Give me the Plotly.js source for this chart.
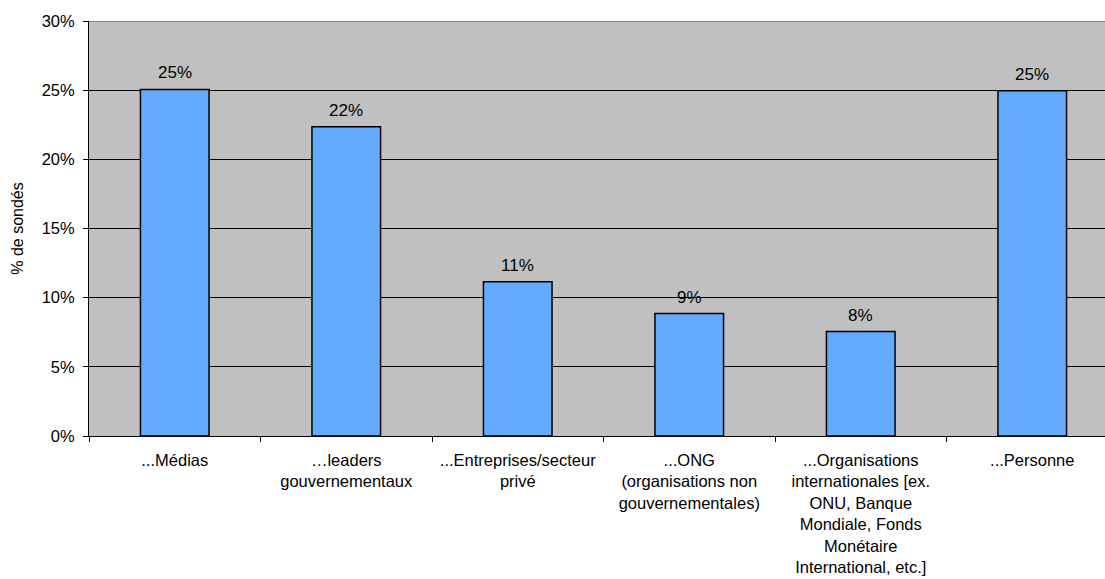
<!DOCTYPE html>
<html>
<head>
<meta charset="utf-8">
<script src="https://cdn.plot.ly/plotly-3.0.1.min.js"></script>
<style>
html, body { margin: 0; padding: 0; overflow: hidden; background: #fff; }
#chart { width: 1130px; height: 579px; }
</style>
</head>
<body>
<div id="chart"></div>
<script>
const categories = [
  "...Médias",
  "…leaders<br>gouvernementaux",
  "...Entreprises/secteur<br>privé",
  "...ONG<br>(organisations non<br>gouvernementales)",
  "...Organisations<br>internationales [ex.<br>ONU, Banque<br>Mondiale, Fonds<br>Monétaire<br>International, etc.]",
  "...Personne"
];
const values = [25.05, 22.35, 11.15, 8.85, 7.55, 24.95];
const valueLabels = ["25%", "22%", "11%", "9%", "8%", "25%"];
const yTickVals = [0, 5, 10, 15, 20, 25, 30];
const yTickText = ["0%", "5%", "10%", "15%", "20%", "25%", "30%"];

const font = "Liberation Sans, Arial, sans-serif";

const trace = {
  type: "bar",
  x: categories,
  y: values,
  marker: { color: "#64AAFF", line: { color: "#000", width: 1.5 } },
  hoverinfo: "none"
};

const annotations = categories.map((c, i) => ({
  x: c, y: values[i], xref: "x", yref: "y",
  text: valueLabels[i], showarrow: false,
  yanchor: "bottom", yshift: 5,
  font: { family: font, size: 17, color: "#000" }
}));

const layout = {
  width: 1130,
  height: 579,
  margin: { l: 89, r: 12, t: 21, b: 143 },
  paper_bgcolor: "#fff",
  plot_bgcolor: "#C0C0C0",
  bargap: 0.6,
  showlegend: false,
  font: { family: font, size: 16.5, color: "#000" },
  xaxis: {
    type: "category",
    tickson: "boundaries",
    ticks: "outside",
    ticklen: 5,
    tickcolor: "#000",
    showline: true,
    linecolor: "#000",
    linewidth: 1,
    showgrid: false,
    tickangle: 0,
    ticklabelstandoff: 9,
    tickfont: { family: font, size: 16.5, color: "#000" },
    automargin: false
  },
  yaxis: {
    range: [0, 30],
    tickvals: yTickVals,
    ticktext: yTickText,
    ticks: "outside",
    ticklen: 5,
    tickcolor: "#000",
    showline: true,
    linecolor: "#000",
    linewidth: 1,
    showgrid: true,
    gridcolor: "#000",
    gridwidth: 1,
    zeroline: false,
    ticklabelstandoff: 5,
    tickfont: { family: font, size: 16.5, color: "#000" },
    title: { text: "% de sondés", font: { family: font, size: 16, color: "#000" }, standoff: 14 },
    automargin: false
  },
  annotations: annotations,
  shapes: [
    { type: "line", xref: "paper", yref: "y", x0: 0, x1: 1, y0: 30, y1: 30,
      line: { color: "#808080", width: 2 } }
  ]
};

Plotly.newPlot("chart", [trace], layout, { displayModeBar: false, staticPlot: true });
</script>
</body>
</html>
